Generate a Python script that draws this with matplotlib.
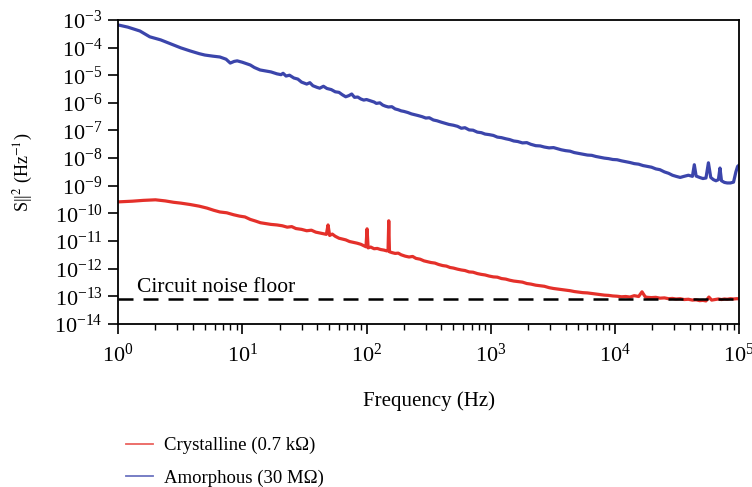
import numpy as np
import matplotlib
matplotlib.use("Agg")
import matplotlib.pyplot as plt
from matplotlib.ticker import LogLocator, NullFormatter, NullLocator

plt.rcParams['font.family'] = ['Liberation Serif', 'DejaVu Serif']
plt.rcParams['mathtext.fontset'] = 'stix'

# Amorphous sample spectrum: frequency (Hz) and log10 of S (Hz^-1)
amorphous_freq = [1.0, 1.2, 1.5, 1.8, 2.2, 2.7, 3.2, 3.8, 4.5, 5.0, 5.8, 6.6, 7.4, 8.0, 8.6, 9.1,
                  10.0, 11.6, 12.5, 13.9, 15.5, 17.0, 19.0, 20.5, 21.3, 22.5, 24.0, 26.0, 28.0, 30.0,
                  33.0, 35.0, 37.0, 40.0, 42.0, 45.0, 48.0, 52.0, 56.0, 60.0, 64.0, 68.0, 72.0, 76.0,
                  80.0, 85.0, 90.0, 95.0, 100, 108, 115, 120, 128, 135, 142, 150, 160, 170, 180, 190,
                  200, 215, 230, 245, 260, 280, 300, 320, 345, 370, 400, 430, 460, 500, 540, 580, 620,
                  670, 720, 780, 840, 900, 970, 1050, 1130, 1220, 1320, 1420, 1530, 1650, 1800, 1950,
                  2100, 2300, 2500, 2700, 2950, 3200, 3450, 3700, 4000, 4350, 4700, 5100, 5500, 6000,
                  6500, 7000, 7600, 8200, 8900, 9600, 10400, 11300, 12200, 13200, 14300, 15500, 16800,
                  18200, 19700, 21300, 23000, 25000, 27000, 29000, 31000, 33500, 36000, 39000, 42000,
                  43500, 45000, 48000, 51000, 54000, 56500, 59000, 62000, 65000, 68000, 70000, 72000,
                  76000, 80000, 85000, 90000, 94000, 97000, 100000]
amorphous_log = [-3.18, -3.26, -3.40, -3.61, -3.72, -3.88, -4.01, -4.12, -4.22, -4.27, -4.31, -4.34,
                 -4.42, -4.56, -4.50, -4.48, -4.53, -4.63, -4.72, -4.81, -4.85, -4.88, -4.95, -4.98,
                 -4.93, -5.03, -5.00, -5.10, -5.14, -5.25, -5.32, -5.27, -5.38, -5.44, -5.47, -5.40,
                 -5.48, -5.52, -5.60, -5.62, -5.71, -5.78, -5.74, -5.68, -5.80, -5.79, -5.86, -5.90,
                 -5.88, -5.93, -5.97, -6.02, -6.00, -6.08, -6.12, -6.15, -6.14, -6.22, -6.25, -6.29,
                 -6.31, -6.35, -6.40, -6.43, -6.46, -6.50, -6.55, -6.54, -6.62, -6.65, -6.70, -6.74,
                 -6.78, -6.81, -6.85, -6.92, -6.90, -6.98, -6.99, -7.06, -7.08, -7.13, -7.15, -7.18,
                 -7.24, -7.26, -7.30, -7.33, -7.38, -7.40, -7.45, -7.44, -7.50, -7.55, -7.56, -7.60,
                 -7.63, -7.62, -7.66, -7.70, -7.73, -7.75, -7.80, -7.83, -7.86, -7.89, -7.90, -7.94,
                 -7.97, -8.00, -8.02, -8.05, -8.06, -8.10, -8.13, -8.16, -8.20, -8.22, -8.27, -8.30,
                 -8.33, -8.39, -8.42, -8.50, -8.55, -8.62, -8.66, -8.70, -8.66, -8.62, -8.66, -8.24,
                 -8.65, -8.70, -8.74, -8.72, -8.17, -8.70, -8.78, -8.82, -8.78, -8.36, -8.82, -8.88,
                 -8.90, -8.90, -8.87, -8.50, -8.30, -8.25]

# Crystalline sample spectrum
crystalline_freq = [1.0, 1.3, 1.6, 2.0, 2.4, 2.8, 3.2, 3.8, 4.5, 5.2, 5.9, 6.6, 7.5, 8.5, 9.5, 10.5,
                    11.6, 12.8, 14.0, 15.5, 17.0, 19.0, 21.0, 23.0, 25.0, 27.0, 30.0, 33.0, 36.0,
                    39.0, 42.0, 45.0, 47.5, 49.0, 50.5, 53.0, 56.0, 60.0, 64.0, 68.0, 73.0, 78.0,
                    84.0, 90.0, 96.0, 99.0, 101.0, 103.0, 108.0, 115.0, 122.0, 130.0, 138.0, 146.0,
                    149.0, 151.0, 153.0, 160.0, 170.0, 180.0, 190.0, 205.0, 220.0, 235.0, 250.0,
                    270.0, 290.0, 310.0, 330.0, 355.0, 380.0, 410.0, 440.0, 470.0, 500.0, 540.0,
                    580.0, 620.0, 670.0, 720.0, 780.0, 840.0, 900.0, 970.0, 1050.0, 1130.0, 1220.0,
                    1320.0, 1420.0, 1530.0, 1650.0, 1800.0, 1950.0, 2100.0, 2300.0, 2500.0, 2700.0,
                    2950.0, 3200.0, 3450.0, 3700.0, 4000.0, 4350.0, 4700.0, 5100.0, 5500.0, 6000.0,
                    6500.0, 7000.0, 7600.0, 8200.0, 8900.0, 9600.0, 10400.0, 11300.0, 12200.0,
                    13200.0, 14300.0, 15500.0, 16500.0, 17500.0, 18200.0, 19700.0, 21300.0, 23000.0,
                    25000.0, 27000.0, 29000.0, 31000.0, 33500.0, 36000.0, 39000.0, 42000.0, 45000.0,
                    48000.0, 51000.0, 54000.0, 57000.0, 60000.0, 64000.0, 68000.0, 72000.0, 76000.0,
                    80000.0, 85000.0, 90000.0, 95000.0, 100000.0]
crystalline_log = [-9.585, -9.56, -9.53, -9.51, -9.55, -9.60, -9.63, -9.68, -9.74, -9.81, -9.89,
                   -9.95, -9.98, -10.05, -10.10, -10.13, -10.22, -10.28, -10.34, -10.37, -10.40,
                   -10.42, -10.45, -10.50, -10.48, -10.55, -10.58, -10.63, -10.61, -10.68, -10.71,
                   -10.74, -10.76, -10.42, -10.80, -10.75, -10.83, -10.90, -10.93, -10.96, -11.02,
                   -11.05, -11.08, -11.12, -11.18, -11.21, -10.56, -11.25, -11.22, -11.28, -11.27,
                   -11.31, -11.33, -11.36, -11.35, -10.27, -11.39, -11.42, -11.45, -11.44, -11.50,
                   -11.55, -11.58, -11.56, -11.63, -11.66, -11.72, -11.75, -11.78, -11.80, -11.85,
                   -11.89, -11.91, -11.96, -11.98, -12.02, -12.05, -12.07, -12.12, -12.13, -12.18,
                   -12.21, -12.23, -12.27, -12.30, -12.31, -12.36, -12.38, -12.42, -12.45, -12.47,
                   -12.49, -12.54, -12.56, -12.60, -12.62, -12.64, -12.69, -12.72, -12.74, -12.76,
                   -12.78, -12.80, -12.83, -12.85, -12.87, -12.88, -12.90, -12.92, -12.94, -12.96,
                   -12.97, -12.99, -13.00, -13.02, -13.01, -13.03, -12.98, -13.01, -12.84, -13.02,
                   -13.04, -13.05, -13.04, -13.07, -13.06, -13.09, -13.08, -13.10, -13.09, -13.12,
                   -13.11, -13.14, -13.13, -13.16, -13.15, -13.17, -13.03, -13.14, -13.12, -13.10,
                   -13.12, -13.10, -13.11, -13.09, -13.10, -13.09, -13.09]

noise_floor = 8e-14

fig = plt.figure(figsize=(7.52, 4.87), dpi=100)
ax = fig.add_axes([0.157, 0.335, 0.826, 0.624])

ax.plot(amorphous_freq, 10 ** np.array(amorphous_log), color='#3b45ab', lw=2.3,
        label='Amorphous (30 M\u03a9)')
ax.plot(crystalline_freq, 10 ** np.array(crystalline_log), color='#e4302a', lw=2.3,
        label='Crystalline (0.7 k\u03a9)')
ax.axhline(noise_floor, color='black', lw=1.8, ls=(0, (6, 4)))
ax.text(1.42, noise_floor * 2.6, 'Circuit noise floor', fontsize=15.5, va='center')

ax.set_xscale('log')
ax.set_yscale('log')
ax.set_xlim(1, 1e5)
ax.set_ylim(1e-14, 1e-3)

ax.xaxis.set_major_locator(LogLocator(base=10, numticks=10))
ax.xaxis.set_minor_locator(LogLocator(base=10, subs=np.arange(2, 10), numticks=20))
ax.xaxis.set_minor_formatter(NullFormatter())
ax.yaxis.set_major_locator(LogLocator(base=10, numticks=20))
ax.yaxis.set_minor_locator(NullLocator())
ax.tick_params(axis='both', which='major', direction='out', length=7, width=1.2, labelsize=16)
ax.tick_params(axis='x', which='minor', direction='out', length=4, width=1.0)
ax.tick_params(axis='x', pad=7)
ax.tick_params(axis='y', pad=4)
for s in ax.spines.values():
    s.set_linewidth(1.3)

ax.set_xlabel('Frequency (Hz)', fontsize=15, labelpad=18)
ax.set_ylabel('S||$^2$ (Hz$^{-1}$)', fontsize=13, labelpad=14)

handles, labels = ax.get_legend_handles_labels()
leg = fig.legend(handles[::-1], labels[::-1], loc='upper left', bbox_to_anchor=(0.157, 0.118),
                 bbox_transform=fig.transFigure, frameon=False, fontsize=13.5, handlelength=1.45,
                 handletextpad=0.6, labelspacing=0.8, borderaxespad=0)
for line in leg.get_lines():
    line.set_linewidth(1.3)
    line.set_alpha(0.75)

fig.savefig('out.png', dpi=100)
